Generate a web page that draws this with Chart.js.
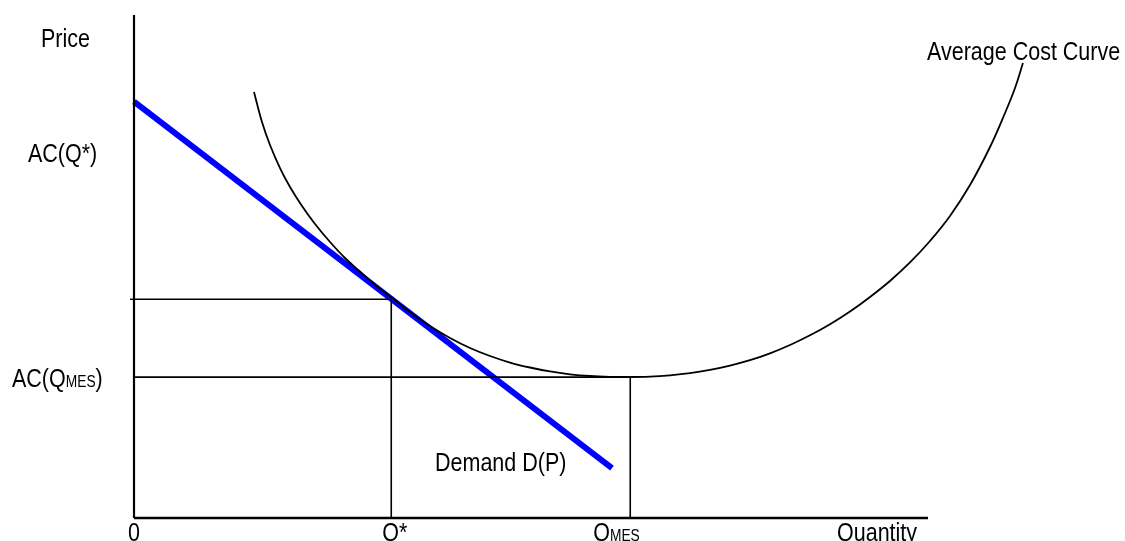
<!DOCTYPE html>
<html>
<head>
<meta charset="utf-8">
<script src="https://cdn.jsdelivr.net/npm/chart.js@4/dist/chart.umd.min.js"></script>
<style>
  html, body { margin: 0; padding: 0; background: #fff; }
  #chart { display: block; }
</style>
</head>
<body>
<canvas id="chart" width="1125" height="541"></canvas>
<script>
// --- Data ---
// average cost curve (quantity, price)
const acQ = [15.11, 16.12, 17.13, 18.39, 19.65, 21.16, 22.80, 24.69, 26.57, 28.46, 30.35, 32.37, 34.76, 37.28,
    39.80, 42.32, 44.84, 47.36, 49.87, 52.39, 54.91, 57.43, 59.95, 62.47, 64.99, 67.51, 70.03, 72.54, 75.06,
    77.58, 80.10, 82.62, 85.14, 87.66, 90.18, 92.70, 95.21, 97.73, 100.25, 102.77, 105.29, 107.81, 109.70,
    110.96, 111.96];
const acP = [84.69, 78.73, 74.16, 69.58, 65.81, 62.03, 58.45, 54.87, 51.69, 49.01, 46.42, 43.94, 40.95, 38.17,
    35.79, 33.80, 32.21, 30.91, 29.92, 29.13, 28.57, 28.23, 28.07, 28.03, 28.11, 28.37, 28.79, 29.44, 30.30,
    31.37, 32.74, 34.39, 36.32, 38.53, 41.05, 43.94, 47.12, 50.80, 55.07, 60.04, 66.20, 73.76, 80.52,
    85.49, 90.46];

// demand line end points
const demandQ = [0, 60.2];
const demandP = [82.8, 9.9];

// marked quantities and prices
const qStar = 32.4;
const qMes = 62.5;
const acStar = 43.5;
const acMes = 28.0;

// axis extents
const axisQ = [0, 100];
const axisP = [0, 100];

function pts(xs, ys) {
    return xs.map((x, i) => ({ x: x, y: ys[i] }));
}

const lineDefaults = { showLine: true, pointRadius: 0, fill: false, clip: false, tension: 0 };

const datasets = [
    // axes
    Object.assign({ data: pts([axisQ[0], axisQ[0]], axisP), borderColor: '#000', borderWidth: 2.2 }, lineDefaults),
    Object.assign({ data: pts(axisQ, [axisP[0], axisP[0]]), borderColor: '#000', borderWidth: 2.4 }, lineDefaults),
    // guide lines
    Object.assign({ data: pts([-0.5, qStar], [acStar, acStar]), borderColor: '#000', borderWidth: 1.6 }, lineDefaults),
    Object.assign({ data: pts([qStar, qStar], [acStar, 0]), borderColor: '#000', borderWidth: 1.6 }, lineDefaults),
    Object.assign({ data: pts([0, qMes], [acMes, acMes]), borderColor: '#000', borderWidth: 1.6 }, lineDefaults),
    Object.assign({ data: pts([qMes, qMes], [acMes, 0]), borderColor: '#000', borderWidth: 1.6 }, lineDefaults),
    // average cost curve
    Object.assign({}, lineDefaults, { data: pts(acQ, acP), borderColor: '#000', borderWidth: 1.8, tension: 0.4 }),
    // demand
    Object.assign({ data: pts(demandQ, demandP), borderColor: '#0000ff', borderWidth: 6, borderCapStyle: 'butt' }, lineDefaults)
];

const FONT = '"Liberation Sans", Arial, sans-serif';
const SX = 0.86; // glyphs in the picture are a bit narrow

function drawParts(ctx, parts, x, y) {
    ctx.save();
    ctx.translate(x, y);
    ctx.scale(SX, 1);
    let cx = 0;
    parts.forEach(p => {
        ctx.font = (p.sub ? 16 : 25) + 'px ' + FONT;
        ctx.fillText(p.t, cx, 0);
        cx += ctx.measureText(p.t).width;
    });
    ctx.restore();
}

const labelPlugin = {
    id: 'labels',
    afterDatasetsDraw(chart) {
        const ctx = chart.ctx;
        const xs = chart.scales.x;
        ctx.save();
        ctx.fillStyle = '#000';
        ctx.textBaseline = 'alphabetic';
        ctx.textAlign = 'left';
        drawParts(ctx, [{ t: 'Price' }], 41, 47);
        drawParts(ctx, [{ t: 'AC(Q*)' }], 28, 162);
        drawParts(ctx, [{ t: 'AC(Q' }, { t: 'MES', sub: true }, { t: ')' }], 12, 387);
        drawParts(ctx, [{ t: 'Average Cost Curve' }], 927, 60);
        drawParts(ctx, [{ t: 'Demand D(P)' }], 435, 471);
        drawParts(ctx, [{ t: '0' }], xs.getPixelForValue(0) - 6, 541);
        drawParts(ctx, [{ t: 'Q*' }], xs.getPixelForValue(qStar) - 9, 541);
        drawParts(ctx, [{ t: 'Q' }, { t: 'MES', sub: true }], xs.getPixelForValue(qMes) - 37, 541);
        drawParts(ctx, [{ t: 'Quantity' }], 837, 541);
        ctx.restore();
    }
};

new Chart(document.getElementById('chart'), {
    type: 'scatter',
    data: { datasets: datasets },
    options: {
        responsive: false,
        animation: false,
        events: [],
        layout: { padding: { left: 54.6, right: 38.2, top: 15, bottom: 23 } },
        plugins: { legend: { display: false }, tooltip: { enabled: false } },
        scales: {
            x: { type: 'linear', min: -10, max: 120, display: false },
            y: { type: 'linear', min: 0, max: 100, display: false }
        }
    },
    plugins: [labelPlugin]
});
</script>
</body>
</html>
